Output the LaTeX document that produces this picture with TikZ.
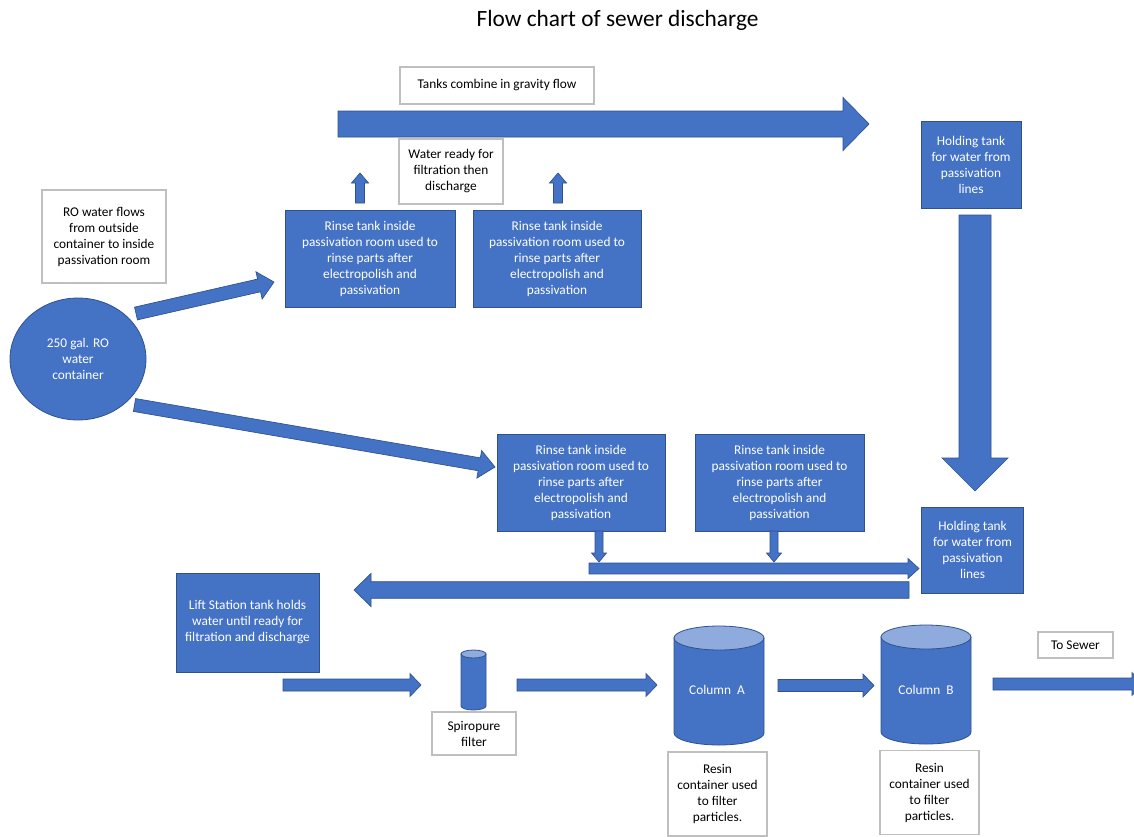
\documentclass[tikz,border=0pt]{standalone}
\usepackage{fontspec}
\setmainfont{Carlito}
\usetikzlibrary{calc,shapes.geometric}
\definecolor{bfill}{HTML}{4472C4}
\definecolor{bline}{HTML}{2F528F}
\definecolor{btop}{HTML}{8FAADC}
\definecolor{gline}{HTML}{BFBFBF}
\tikzset{
  txt/.style={font=\fontsize{10}{12}\selectfont, align=center, inner sep=0pt},
  bluebox/.style={txt, rectangle, fill=bfill, draw=bline, line width=0.6pt, text=white},
  whitebox/.style={txt, rectangle, fill=white, draw=gline, line width=0.8pt, text=black},
  barrow/.style={fill=bfill, draw=bline, line width=0.5pt, line join=miter},
  cylbody/.style={fill=bfill, draw=bline, line width=0.6pt},
  cyltop/.style={fill=btop, draw=bline, line width=0.6pt},
}
\newcommand\blockarrow[5]{%
  \coordinate (hb) at ($(#2)!#5!(#1)$);
  \path[barrow] ($(#1)!#3!90:(#2)$) -- ($(hb)!#3!90:(#2)$) -- ($(hb)!#4!90:(#2)$) -- (#2)
    -- ($(hb)!#4!-90:(#2)$) -- ($(hb)!#3!-90:(#2)$) -- ($(#1)!#3!-90:(#2)$) -- cycle;
}
\begin{document}
\begin{tikzpicture}[x=0.75pt,y=-0.75pt]
\useasboundingbox (0,0) rectangle (1134,836);
\fill[white] (0,0) rectangle (1134,836);
\clip (0,0) rectangle (1134,836);

% title
\node[font=\fontsize{17.5}{21}\selectfont, inner sep=0pt, anchor=base] (title) at (617.5,26.5) {Flow chart of sewer discharge};

% boxes
\node[whitebox, minimum width=145.5pt, minimum height=27.75pt] (tanks) at (497,85.5) {Tanks combine in gravity flow};
\node[whitebox, minimum width=78pt, minimum height=48.75pt] (ready) at (451,171.5) {Water ready for\\filtration then\\discharge};
\node[whitebox, minimum width=93pt, minimum height=69.75pt] (ro) at (104,236.5) {RO water flows\\from outside\\container to inside\\passivation room};
\node[bluebox, ellipse, minimum width=102pt, minimum height=91.5pt] (cont) at (78,359) {250 gal. RO\\water\\container};

\node[bluebox, minimum width=127.5pt, minimum height=72.75pt] (r1) at (370,258.5) {Rinse tank inside\\passivation room used to\\rinse parts after\\electropolish and\\passivation};
\node[bluebox, minimum width=126pt, minimum height=72.75pt] (r2) at (557,258.5) {Rinse tank inside\\passivation room used to\\rinse parts after\\electropolish and\\passivation};
\node[bluebox, minimum width=126pt, minimum height=72.75pt] (r3) at (581,482.5) {Rinse tank inside\\passivation room used to\\rinse parts after\\electropolish and\\passivation};
\node[bluebox, minimum width=126.75pt, minimum height=72.75pt] (r4) at (779.5,482.5) {Rinse tank inside\\passivation room used to\\rinse parts after\\electropolish and\\passivation};

\node[bluebox, minimum width=75pt, minimum height=65.25pt] (h1) at (971,164.5) {Holding tank\\for water from\\passivation\\lines};
\node[bluebox, minimum width=76.5pt, minimum height=64.5pt] (h2) at (972.5,550) {Holding tank\\for water from\\passivation\\lines};

\node[bluebox, minimum width=107.25pt, minimum height=74.25pt] (lift) at (247.5,622.5) {Lift Station tank holds\\water until ready for\\filtration and discharge};

\node[whitebox, minimum width=63pt, minimum height=32.25pt] (spiro) at (474,733.5) {Spiropure\\filter};
\node[whitebox, minimum width=74.25pt, minimum height=63pt] (resA) at (717.5,794) {Resin\\container used\\to filter\\particles.};
\node[whitebox, minimum width=74.25pt, minimum height=63pt] (resB) at (929.5,792.5) {Resin\\container used\\to filter\\particles.};
\node[whitebox, minimum width=56.25pt, minimum height=19.5pt] (sewer) at (1075.5,645) {To Sewer};

% cylinders
% spiropure filter
\path[cylbody] (461,654) -- (461,706) arc[start angle=180, end angle=360, x radius=9.375pt, y radius=3pt] -- (486,654) -- cycle;
\draw[cyltop] (473.5,654) ellipse [x radius=9.375pt, y radius=3pt];
\node[inner sep=0pt] (filt) at (473.5,680) {};
% column A
\path[cylbody] (674,638) -- (674,733) arc[start angle=180, end angle=360, x radius=33.75pt, y radius=9pt] -- (764,638) -- cycle;
\draw[cyltop] (719,638) ellipse [x radius=33.75pt, y radius=9pt];
\node[txt, text=white] (colA) at (717,690) {Column\ \ A};
% column B
\path[cylbody] (881,637) -- (881,732) arc[start angle=180, end angle=360, x radius=33.75pt, y radius=9pt] -- (971,637) -- cycle;
\draw[cyltop] (926,637) ellipse [x radius=33.75pt, y radius=9pt];
\node[txt, text=white] (colB) at (926,690) {Column\ \ B};

% arrow end points
\coordinate (a1s) at (338,124);   \coordinate (a1e) at (869,124);
\coordinate (u1s) at (360,203);   \coordinate (u1e) at (360,173);
\coordinate (u2s) at (558,203);   \coordinate (u2e) at (558,173);
\coordinate (c1s) at (136,313.5); \coordinate (c1e) at (274,282);
\coordinate (c2s) at (134.5,405); \coordinate (c2e) at (495,467);
\coordinate (hds) at (975,215);   \coordinate (hde) at (975,491);
\coordinate (d3s) at (599,531);   \coordinate (d3e) at (599,562);
\coordinate (d4s) at (774,531);   \coordinate (d4e) at (774,562);
\coordinate (ms)  at (589,568.5); \coordinate (me)  at (919,568.5);
\coordinate (ls)  at (909,590);   \coordinate (le)  at (354,590);
\coordinate (f1s) at (283,685);   \coordinate (f1e) at (421,685);
\coordinate (f2s) at (517,685);   \coordinate (f2e) at (657,685);
\coordinate (f3s) at (778,685.5); \coordinate (f3e) at (874,685.5);
\coordinate (f4s) at (993,684);   \coordinate (f4e) at (1143,684);

% block arrows: tail, tip, shaft half width, head half width, head length (pt)
\blockarrow{a1s}{a1e}{9.75pt}{19.9pt}{19.5pt}
\blockarrow{u1s}{u1e}{3.4pt}{6.4pt}{7.5pt}
\blockarrow{u2s}{u2e}{3.4pt}{6.4pt}{7.5pt}
\blockarrow{c1s}{c1e}{4.9pt}{10.5pt}{11.5pt}
\blockarrow{c2s}{c2e}{4.9pt}{10.5pt}{12pt}
\blockarrow{hds}{hde}{12pt}{24.75pt}{24.75pt}
\blockarrow{d3s}{d3e}{3pt}{5.6pt}{6.75pt}
\blockarrow{d4s}{d4e}{3pt}{5.6pt}{6.75pt}
\blockarrow{ms}{me}{4.1pt}{7.5pt}{8.25pt}
\blockarrow{ls}{le}{6.2pt}{12.4pt}{12.75pt}
\blockarrow{f1s}{f1e}{4.5pt}{8.6pt}{8.25pt}
\blockarrow{f2s}{f2e}{4.5pt}{8.6pt}{8.25pt}
\blockarrow{f3s}{f3e}{4.5pt}{8.6pt}{8.25pt}
\blockarrow{f4s}{f4e}{4.5pt}{8.6pt}{8.25pt}
\end{tikzpicture}
\end{document}
